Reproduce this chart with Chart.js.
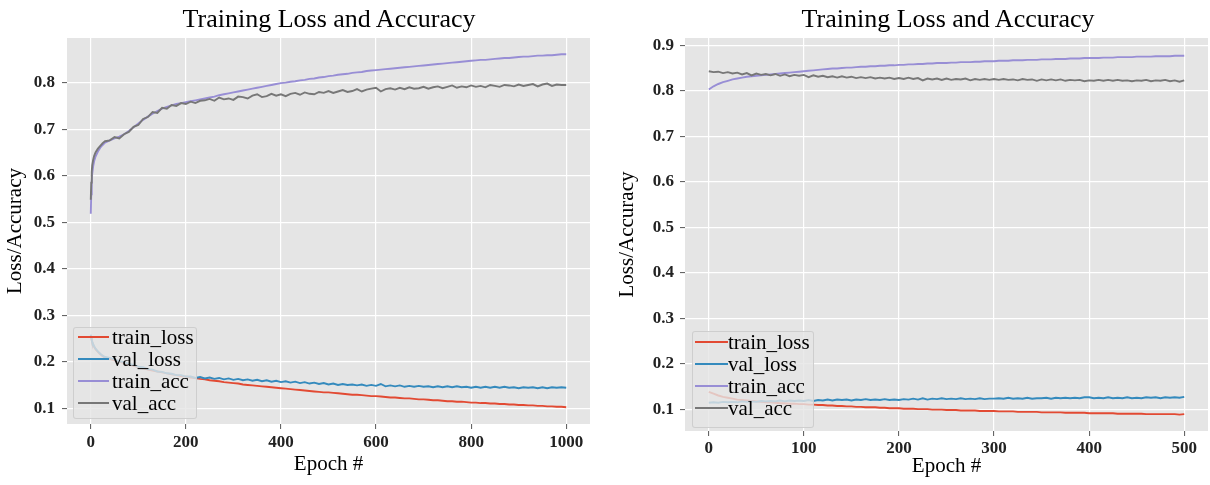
<!DOCTYPE html>
<html lang="en">
<head>
<meta charset="UTF-8">
<title>Training Loss and Accuracy</title>
<script src="https://cdn.jsdelivr.net/npm/chart.js"></script>
<style>
  body { margin: 0; background: #fff; font-family: 'Liberation Serif', 'Times New Roman', serif; }
  .wrap { position: relative; width: 1210px; height: 485px; overflow: hidden; }
  canvas { position: absolute; top: 0; }
  .title { position: absolute; top: 6px; width: 420px; text-align: center; font-size: 26px; line-height: 26px; color: #000; }
  .legend { position: absolute; background: rgba(229,229,229,0.8); border: 1px solid rgba(200,200,200,0.8); border-radius: 3px; box-sizing: border-box; }
  .legend .row { position: absolute; height: 22px; line-height: 22px; font-size: 21px; color: #000; white-space: nowrap; }
  .legend .swatch { position: absolute; top: 10px; height: 2px; }
</style>
</head>
<body>
<div class="wrap">
  <canvas id="leftChart" width="600" height="485" style="left:0"></canvas>
  <canvas id="rightChart" width="605" height="485" style="left:605px"></canvas>
  <div class="title" style="left:119px">Training Loss and Accuracy</div>
  <div class="title" style="left:738px">Training Loss and Accuracy</div>
  <div class="legend" id="leftLegend" style="left:73px; top:327px; width:124px; height:92px"></div>
  <div class="legend" id="rightLegend" style="left:692px; top:331px; width:122px; height:97px"></div>
</div>

<script>
// series names and ggplot colours
const seriesNames = ['train_loss', 'val_loss', 'train_acc', 'val_acc'];
const seriesColors = ['#E24A33', '#348ABD', '#988ED5', '#777777'];

// ---- left panel (1000 epochs) ----
const leftEpochs = [0,1,2,3,5,7,10,15,20,25,30,
  40,50,60,70,80,90,100,110,120,130,140,150,160,170,180,190,200,
  210,220,230,240,250,260,270,280,290,300,
  310,320,330,340,350,360,370,380,390,400,
  410,420,430,440,450,460,470,480,490,500,
  510,520,530,540,550,560,570,580,590,600,
  610,620,630,640,650,660,670,680,690,700,
  710,720,730,740,750,760,770,780,790,800,
  810,820,830,840,850,860,870,880,890,900,
  910,920,930,940,950,960,970,980,990,1000];

const leftTrainLoss = [0.256,0.251,0.246,0.242,0.237,0.232,0.227,0.221,0.216,0.212,0.209,
  0.206,0.203,0.200,0.197,0.194,0.191,0.188,0.186,0.183,0.181,0.179,0.177,0.175,0.173,0.171,0.169,0.168,
  0.166,0.165,0.163,0.162,0.160,0.159,0.158,0.156,0.155,0.154,
  0.153,0.151,0.150,0.149,0.148,0.147,0.146,0.145,0.144,0.143,
  0.142,0.141,0.140,0.139,0.138,0.137,0.136,0.135,0.134,0.134,
  0.133,0.132,0.131,0.130,0.129,0.129,0.128,0.127,0.126,0.126,
  0.125,0.124,0.123,0.123,0.122,0.121,0.121,0.120,0.119,0.119,
  0.118,0.117,0.117,0.116,0.115,0.115,0.114,0.114,0.113,0.112,
  0.112,0.111,0.111,0.110,0.110,0.109,0.109,0.108,0.108,0.107,
  0.107,0.106,0.106,0.105,0.105,0.104,0.104,0.103,0.103,0.102];

const leftValLoss = [0.258,0.252,0.247,0.243,0.238,0.233,0.228,0.222,0.217,0.213,0.210,
  0.208,0.205,0.201,0.199,0.195,0.193,0.189,0.188,0.184,0.183,0.179,0.178,0.175,0.174,0.171,0.171,0.168,
  0.168,0.165,0.167,0.164,0.166,0.163,0.165,0.162,0.164,0.161,
  0.163,0.160,0.162,0.159,0.161,0.158,0.160,0.157,0.159,0.156,
  0.158,0.155,0.157,0.154,0.156,0.153,0.155,0.152,0.154,0.151,
  0.153,0.150,0.152,0.150,0.151,0.149,0.151,0.148,0.150,0.148,
  0.152,0.147,0.149,0.147,0.149,0.146,0.148,0.146,0.148,0.146,
  0.147,0.145,0.147,0.145,0.147,0.145,0.147,0.145,0.146,0.144,
  0.146,0.144,0.146,0.144,0.146,0.144,0.146,0.144,0.145,0.143,
  0.145,0.144,0.145,0.143,0.145,0.143,0.145,0.144,0.145,0.144];

const leftTrainAcc = [0.518,0.560,0.588,0.604,0.620,0.631,0.641,0.652,0.660,0.666,0.671,
  0.676,0.680,0.684,0.689,0.696,0.704,0.712,0.720,0.727,0.733,0.739,0.744,0.748,0.751,0.754,0.756,0.758,
  0.760,0.762,0.764,0.766,0.768,0.770,0.773,0.775,0.777,0.779,
  0.781,0.783,0.785,0.787,0.789,0.791,0.793,0.795,0.797,0.799,
  0.800,0.802,0.803,0.805,0.806,0.808,0.809,0.811,0.812,0.814,
  0.815,0.817,0.818,0.819,0.821,0.822,0.823,0.825,0.826,0.827,
  0.828,0.829,0.830,0.831,0.832,0.833,0.834,0.835,0.836,0.837,
  0.838,0.839,0.840,0.841,0.842,0.843,0.844,0.845,0.846,0.847,
  0.848,0.849,0.849,0.850,0.851,0.852,0.853,0.853,0.854,0.855,
  0.856,0.856,0.857,0.858,0.858,0.859,0.859,0.860,0.861,0.861];

const leftValAcc = [0.548,0.585,0.608,0.622,0.634,0.642,0.650,0.658,0.664,0.670,0.674,
  0.676,0.683,0.680,0.689,0.694,0.705,0.709,0.722,0.726,0.737,0.735,0.746,0.744,0.752,0.750,0.756,0.754,
  0.759,0.756,0.761,0.762,0.765,0.761,0.768,0.764,0.766,0.763,
  0.770,0.769,0.766,0.772,0.775,0.769,0.771,0.776,0.772,0.775,
  0.771,0.776,0.778,0.774,0.779,0.776,0.775,0.780,0.778,0.782,
  0.778,0.781,0.784,0.780,0.782,0.786,0.781,0.785,0.787,0.789,
  0.781,0.786,0.788,0.785,0.789,0.786,0.790,0.787,0.788,0.791,
  0.787,0.790,0.792,0.788,0.791,0.794,0.789,0.792,0.790,0.794,
  0.791,0.793,0.790,0.795,0.793,0.791,0.795,0.794,0.792,0.796,
  0.793,0.795,0.797,0.792,0.796,0.798,0.793,0.796,0.795,0.795];

const leftXTicks = [0, 200, 400, 600, 800, 1000];
const leftYTicks = [0.1, 0.2, 0.3, 0.4, 0.5, 0.6, 0.7, 0.8];

// ---- right panel (500 epochs) ----
const rightEpochs = [0,5,10,15,20,25,30,35,40,45,
  50,55,60,65,70,75,80,85,90,95,
  100,105,110,115,120,125,130,135,140,145,
  150,155,160,165,170,175,180,185,190,195,
  200,205,210,215,220,225,230,235,240,245,
  250,255,260,265,270,275,280,285,290,295,
  300,305,310,315,320,325,330,335,340,345,
  350,355,360,365,370,375,380,385,390,395,
  400,405,410,415,420,425,430,435,440,445,
  450,455,460,465,470,475,480,485,490,495,
  500];

const rightTrainLoss = [0.139,0.135,0.131,0.128,0.126,0.124,0.122,0.121,0.120,0.119,
  0.118,0.117,0.116,0.116,0.115,0.114,0.114,0.113,0.113,0.112,
  0.112,0.111,0.111,0.110,0.110,0.109,0.109,0.108,0.108,0.107,
  0.107,0.106,0.106,0.105,0.105,0.105,0.104,0.104,0.103,0.103,
  0.103,0.102,0.102,0.102,0.101,0.101,0.101,0.100,0.100,0.100,
  0.099,0.099,0.099,0.098,0.098,0.098,0.098,0.097,0.097,0.097,
  0.097,0.096,0.096,0.096,0.096,0.095,0.095,0.095,0.095,0.095,
  0.094,0.094,0.094,0.094,0.094,0.093,0.093,0.093,0.093,0.093,
  0.092,0.092,0.092,0.092,0.092,0.092,0.091,0.091,0.091,0.091,
  0.091,0.091,0.090,0.090,0.090,0.090,0.090,0.090,0.090,0.089,
  0.090];

const rightValLoss = [0.115,0.116,0.115,0.117,0.116,0.117,0.116,0.118,0.117,0.118,
  0.117,0.119,0.118,0.119,0.118,0.120,0.118,0.120,0.119,0.120,
  0.119,0.121,0.119,0.121,0.120,0.122,0.120,0.122,0.121,0.122,
  0.120,0.122,0.121,0.123,0.121,0.122,0.121,0.123,0.121,0.122,
  0.121,0.123,0.122,0.124,0.122,0.125,0.122,0.124,0.123,0.125,
  0.123,0.124,0.123,0.125,0.123,0.124,0.123,0.125,0.123,0.124,
  0.124,0.125,0.124,0.126,0.124,0.125,0.124,0.126,0.124,0.125,
  0.125,0.126,0.124,0.126,0.125,0.126,0.125,0.126,0.125,0.127,
  0.127,0.125,0.126,0.125,0.127,0.125,0.126,0.125,0.127,0.125,
  0.126,0.125,0.127,0.126,0.127,0.125,0.127,0.126,0.127,0.126,
  0.128];

const rightTrainAcc = [0.803,0.810,0.815,0.819,0.822,0.825,0.827,0.829,0.831,0.832,
  0.833,0.834,0.835,0.836,0.837,0.838,0.839,0.840,0.841,0.842,
  0.843,0.844,0.845,0.846,0.847,0.848,0.849,0.849,0.850,0.851,
  0.851,0.852,0.853,0.853,0.854,0.854,0.855,0.855,0.856,0.856,
  0.857,0.857,0.858,0.858,0.859,0.859,0.860,0.860,0.861,0.861,
  0.861,0.862,0.862,0.863,0.863,0.863,0.864,0.864,0.865,0.865,
  0.865,0.866,0.866,0.866,0.867,0.867,0.867,0.868,0.868,0.868,
  0.869,0.869,0.869,0.870,0.870,0.870,0.871,0.871,0.871,0.872,
  0.872,0.872,0.872,0.873,0.873,0.873,0.874,0.874,0.874,0.874,
  0.875,0.875,0.875,0.875,0.876,0.876,0.876,0.876,0.877,0.877,
  0.877];

const rightValAcc = [0.843,0.841,0.842,0.839,0.841,0.838,0.840,0.836,0.839,0.834,
  0.838,0.835,0.837,0.834,0.837,0.833,0.836,0.832,0.835,0.833,
  0.835,0.830,0.834,0.831,0.833,0.830,0.832,0.829,0.832,0.829,
  0.831,0.828,0.830,0.828,0.830,0.827,0.829,0.827,0.829,0.826,
  0.828,0.826,0.829,0.826,0.828,0.823,0.827,0.825,0.827,0.824,
  0.827,0.824,0.826,0.825,0.827,0.823,0.826,0.824,0.826,0.824,
  0.826,0.824,0.826,0.824,0.825,0.823,0.826,0.824,0.825,0.822,
  0.825,0.823,0.825,0.823,0.825,0.822,0.824,0.823,0.824,0.821,
  0.823,0.822,0.824,0.822,0.824,0.822,0.824,0.822,0.823,0.821,
  0.823,0.822,0.824,0.821,0.823,0.822,0.824,0.821,0.823,0.820,
  0.823];

const rightXTicks = [0, 100, 200, 300, 400, 500];
const rightYTicks = [0.1, 0.2, 0.3, 0.4, 0.5, 0.6, 0.7, 0.8, 0.9];

const serif = "'Liberation Serif', 'Times New Roman', serif";

// grey plot background like ggplot
const plotBg = {
  id: 'plotBg',
  beforeDraw(chart) {
    const a = chart.chartArea;
    const ctx = chart.ctx;
    ctx.save();
    ctx.fillStyle = '#E5E5E5';
    ctx.fillRect(a.left, a.top, a.right - a.left, a.bottom - a.top);
    ctx.restore();
  }
};

function toPoints(epochs, vals) {
  return epochs.map((e, i) => ({ x: e, y: vals[i] }));
}

function makeChart(id, epochs, series, xRange, yRange, xTicks, yTicks, box) {
  const datasets = series.map((vals, i) => ({
    label: seriesNames[i],
    data: toPoints(epochs, vals),
    borderColor: seriesColors[i],
    borderWidth: 1.9,
    pointRadius: 0,
    fill: false,
    tension: 0,
    order: series.length - i   // later series on top, like matplotlib
  }));

  new Chart(document.getElementById(id), {
    type: 'line',
    data: { datasets: datasets },
    plugins: [plotBg],
    options: {
      responsive: false,
      animation: false,
      layout: { padding: { top: 38, right: box.padRight, bottom: 0, left: 0 } },
      plugins: { legend: { display: false }, tooltip: { enabled: false } },
      scales: {
        x: {
          type: 'linear',
          min: xRange[0],
          max: xRange[1],
          afterBuildTicks: s => { s.ticks = xTicks.map(v => ({ value: v })); },
          afterFit: s => { s.height = box.xHeight; },
          border: { display: false },
          grid: { color: '#ffffff', lineWidth: 1.2, tickColor: '#555', tickLength: 5, tickWidth: 1 },
          ticks: { font: { family: serif, size: 17, weight: 'bold' }, color: '#222', padding: box.xPad, maxRotation: 0, autoSkip: false, callback: v => String(v) },
          title: { display: true, text: 'Epoch #', font: { family: serif, size: 21 }, color: '#000', padding: { top: 0, bottom: box.xTitlePad } }
        },
        y: {
          type: 'linear',
          min: yRange[0],
          max: yRange[1],
          afterBuildTicks: s => { s.ticks = yTicks.map(v => ({ value: v })); },
          afterFit: s => { s.width = box.yWidth; },
          border: { display: false },
          grid: { color: '#ffffff', lineWidth: 1.2, tickColor: '#555', tickLength: 5, tickWidth: 1 },
          ticks: { font: { family: serif, size: 17, weight: 'bold' }, color: '#222', padding: box.yPad, callback: v => v.toFixed(1) },
          title: { display: true, text: 'Loss/Accuracy', font: { family: serif, size: 21 }, color: '#000', padding: { top: box.yTitlePad, bottom: 0 } }
        }
      }
    }
  });
}

makeChart('leftChart', leftEpochs, [leftTrainLoss, leftValLoss, leftTrainAcc, leftValAcc],
  [-50, 1050], [0.066, 0.896], leftXTicks, leftYTicks,
  { padRight: 10, xHeight: 61, yWidth: 67, xPad: 3, yPad: 7, xTitlePad: 8, yTitlePad: 3 });

makeChart('rightChart', rightEpochs, [rightTrainLoss, rightValLoss, rightTrainAcc, rightValAcc],
  [-25, 525], [0.053, 0.916], rightXTicks, rightYTicks,
  { padRight: 2, xHeight: 54, yWidth: 80, xPad: 2, yPad: 6, xTitlePad: 6, yTitlePad: 10 });

// legends in the lower left corner of each plot
function makeLegend(id, rows, lineX, lineW, textX) {
  const box = document.getElementById(id);
  seriesNames.forEach((name, i) => {
    const row = document.createElement('div');
    row.className = 'row';
    row.style.top = (rows[i] - 11) + 'px';
    row.style.left = '0px';
    const sw = document.createElement('div');
    sw.className = 'swatch';
    sw.style.left = lineX + 'px';
    sw.style.width = lineW + 'px';
    sw.style.background = seriesColors[i];
    const txt = document.createElement('span');
    txt.style.position = 'absolute';
    txt.style.left = textX + 'px';
    txt.textContent = name;
    row.appendChild(sw);
    row.appendChild(txt);
    box.appendChild(row);
  });
}

makeLegend('leftLegend', [9, 31, 53, 75], 4, 31, 38);
makeLegend('rightLegend', [10, 32, 54, 76], 2, 33, 35);
</script>
</body>
</html>
